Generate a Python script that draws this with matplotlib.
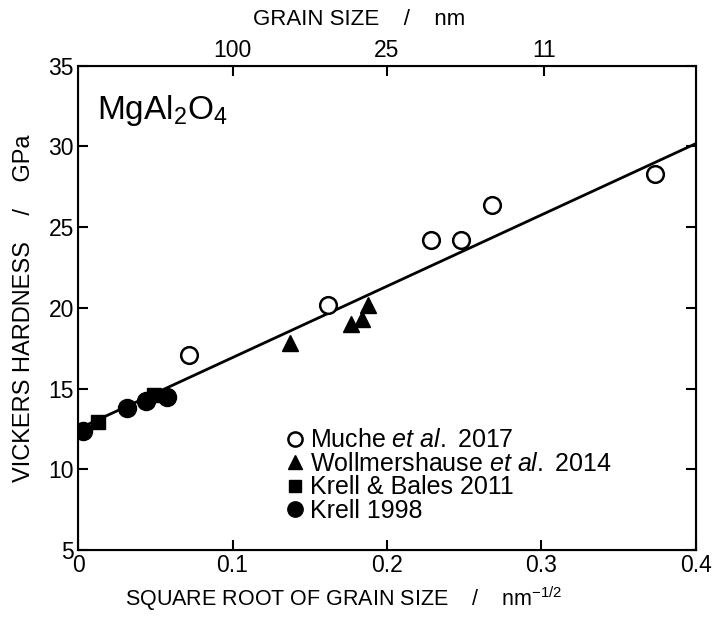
import numpy as np
import matplotlib
matplotlib.use("Agg")
import matplotlib.pyplot as plt

plt.rcParams['font.family'] = ['Liberation Sans', 'DejaVu Sans']
plt.rcParams['mathtext.fontset'] = 'custom'
plt.rcParams['mathtext.rm'] = 'Liberation Sans'
plt.rcParams['mathtext.it'] = 'Liberation Sans:italic'

# hardness data, x = d^-1/2 (nm^-1/2), y = HV (GPa)
muche_x = [0.072, 0.1615, 0.2286, 0.248, 0.268, 0.3737]
muche_y = [17.1, 20.2, 24.2, 24.2, 26.4, 28.3]
woll_x = [0.137, 0.177, 0.184, 0.188]
woll_y = [17.8, 19.0, 19.3, 20.2]
bales_x = [0.013, 0.049]
bales_y = [12.9, 14.6]
krell_x = [0.003, 0.0314, 0.0443, 0.0578]
krell_y = [12.4, 13.8, 14.2, 14.5]

# Hall-Petch fit
fit_a = 12.5
fit_b = 44.2

# top axis grain sizes (nm)
top_sizes = [100, 25, 11]

fig = plt.figure(figsize=(7.17, 6.17), dpi=100)
ax = fig.add_axes([0.1088, 0.1086, 0.9707 - 0.1088, 0.8935 - 0.1086])

xf = np.array([0.0, 0.4])
ax.plot(xf, fit_a + fit_b * xf, color='black', lw=2, zorder=1)

ax.plot(muche_x, muche_y, 'o', ms=12, mfc='white', mec='black', mew=1.8,
        label='Muche $\\it{et\\ al.}$ 2017', zorder=3)
ax.plot(woll_x, woll_y, '^', ms=12, color='black',
        label='Wollmershause $\\it{et\\ al.}$ 2014', zorder=3)
ax.plot(bales_x, bales_y, 's', ms=10, color='black',
        label='Krell & Bales 2011', zorder=3)
ax.plot(krell_x, krell_y, 'o', ms=13, color='black',
        label='Krell 1998', zorder=3)

ax.set_xlim(0, 0.4)
ax.set_ylim(5, 35)
ax.set_xticks([0, 0.1, 0.2, 0.3, 0.4])
ax.set_xticklabels(['0', '0.1', '0.2', '0.3', '0.4'])
ax.set_yticks([5, 10, 15, 20, 25, 30, 35])
ax.tick_params(direction='in', length=7, width=1.5, labelsize=16.5,
               right=True, pad=3)
for s in ax.spines.values():
    s.set_linewidth(1.5)

ax.set_xlabel('SQUARE ROOT OF GRAIN SIZE    /    nm$^{-1/2}$',
              fontsize=15.5)
ax.xaxis.set_label_coords(0.43, -0.072)
ax.set_ylabel('VICKERS HARDNESS    /    GPa', fontsize=17)
ax.yaxis.set_label_coords(-0.07, 0.5)

top = ax.twiny()
top.set_xlim(ax.get_xlim())
top.set_xticks([1 / np.sqrt(d) for d in top_sizes])
top.set_xticklabels([str(d) for d in top_sizes])
top.tick_params(direction='in', length=7, width=1.5, labelsize=16.5, pad=3)
top.set_xlabel('GRAIN SIZE    /    nm', fontsize=16)
top.xaxis.set_label_coords(0.455, 1.085)

ax.text(0.012, 31.7, 'MgAl$_2$O$_4$', fontsize=24, va='baseline')

ax.legend(loc='lower left', bbox_to_anchor=(0.31, 0.03), frameon=False,
          fontsize=18, handletextpad=0.1, labelspacing=-0.02,
          borderpad=0, handlelength=1.0, markerscale=0.85)

fig.savefig('out.png', dpi=100)
